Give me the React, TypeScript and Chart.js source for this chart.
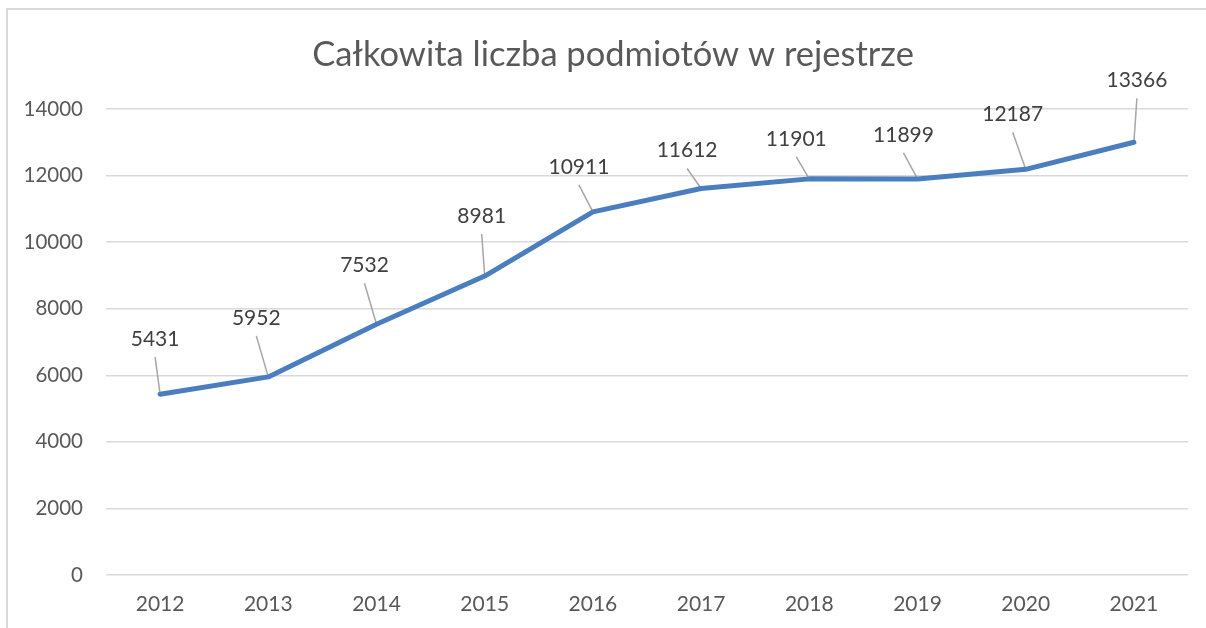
import React, { useEffect, useRef } from "react";
import { Chart, registerables } from "chart.js";

Chart.register(...registerables);

const TITLE = "Całkowita liczba podmiotów w rejestrze";
const years = ["2012", "2013", "2014", "2015", "2016", "2017", "2018", "2019", "2020", "2021"];
// plotted positions
const values = [5431, 5952, 7532, 8981, 10911, 11612, 11901, 11899, 12187, 13000];
// data label texts shown in the picture
const labelTexts = ["5431", "5952", "7532", "8981", "10911", "11612", "11901", "11899", "12187", "13366"];
const yTicks = [0, 2000, 4000, 6000, 8000, 10000, 12000, 14000];

// label placement (offset of label centre from the point), styling only
const labelOffsets: [number, number][] = [
  [-5, -55], [-12, -59], [-12, -59], [-3, -60], [-14, -45],
  [-14, -38], [-13, -40], [-14, -44], [-13, -55], [3, -62],
];

const FONT = "Lato, 'Open Sans', sans-serif";

const titlePlugin = {
  id: "centeredTitle",
  afterDraw(chart: any) {
    const ctx = chart.ctx;
    ctx.save();
    ctx.fillStyle = "#595959";
    ctx.font = `34.5px ${FONT}`;
    ctx.textAlign = "center";
    ctx.textBaseline = "middle";
    ctx.fillText(TITLE, chart.width / 2, 45);
    ctx.restore();
  },
};

const labelPlugin = {
  id: "leaderLabels",
  beforeDatasetsDraw(chart: any) {
    const ctx = chart.ctx;
    const meta = chart.getDatasetMeta(0);
    ctx.save();
    ctx.strokeStyle = "#a6a6a6";
    ctx.lineWidth = 1.5;
    meta.data.forEach((pt: any, i: number) => {
      const [dx, dy] = labelOffsets[i];
      ctx.beginPath();
      ctx.moveTo(pt.x + dx, pt.y + dy + 18);
      ctx.lineTo(pt.x, pt.y);
      ctx.stroke();
    });
    ctx.restore();
  },
  afterDatasetsDraw(chart: any) {
    const ctx = chart.ctx;
    const meta = chart.getDatasetMeta(0);
    ctx.save();
    ctx.fillStyle = "#404040";
    ctx.font = `21px ${FONT}`;
    ctx.textAlign = "center";
    ctx.textBaseline = "middle";
    meta.data.forEach((pt: any, i: number) => {
      const [dx, dy] = labelOffsets[i];
      ctx.fillText(labelTexts[i], pt.x + dx, pt.y + dy);
    });
    ctx.restore();
  },
};

export default function App() {
  const ref = useRef<HTMLCanvasElement | null>(null);
  useEffect(() => {
    document.body.style.margin = "0";
    document.body.style.overflow = "hidden";
    const chart = new Chart(ref.current as HTMLCanvasElement, {
      type: "line",
      data: {
        labels: years,
        datasets: [
          {
            data: values,
            borderColor: "#4a7ebf",
            borderWidth: 5,
            pointRadius: 0,
            tension: 0,
            borderCapStyle: "round",
            borderJoinStyle: "round",
          },
        ],
      },
      options: {
        animation: false,
        responsive: true,
        maintainAspectRatio: false,
        layout: { padding: { left: 0, right: 30, top: 99, bottom: 0 } },
        plugins: {
          legend: { display: false },
          tooltip: { enabled: false },
          title: { display: false },
        },
        scales: {
          x: {
            offset: true,
            grid: { display: false, drawTicks: false },
            border: { display: false },
            ticks: { color: "#595959", font: { family: FONT, size: 21 }, padding: 17 },
            afterFit: (s: any) => { s.height = 53; },
          },
          y: {
            min: 0,
            max: 14000,
            afterBuildTicks: (s: any) => { s.ticks = yTicks.map((v) => ({ value: v })); },
            grid: { color: "#d9d9d9", lineWidth: 1.5, drawTicks: false },
            border: { display: false },
            ticks: {
              color: "#595959",
              font: { family: FONT, size: 20.5 },
              padding: 23,
              callback: (v: any) => String(v),
            },
            afterFit: (s: any) => { s.width = 98; },
          },
        },
      },
      plugins: [labelPlugin, titlePlugin],
    });
    return () => chart.destroy();
  }, []);
  return (
    <div
      style={{
        position: "fixed",
        left: 6,
        top: 8,
        width: 1210,
        height: 618,
        borderLeft: "2px solid #d9d9d9",
        borderTop: "2px solid #d9d9d9",
        overflow: "hidden",
        background: "#fff",
      }}
    >
      <canvas ref={ref} />
    </div>
  );
}
